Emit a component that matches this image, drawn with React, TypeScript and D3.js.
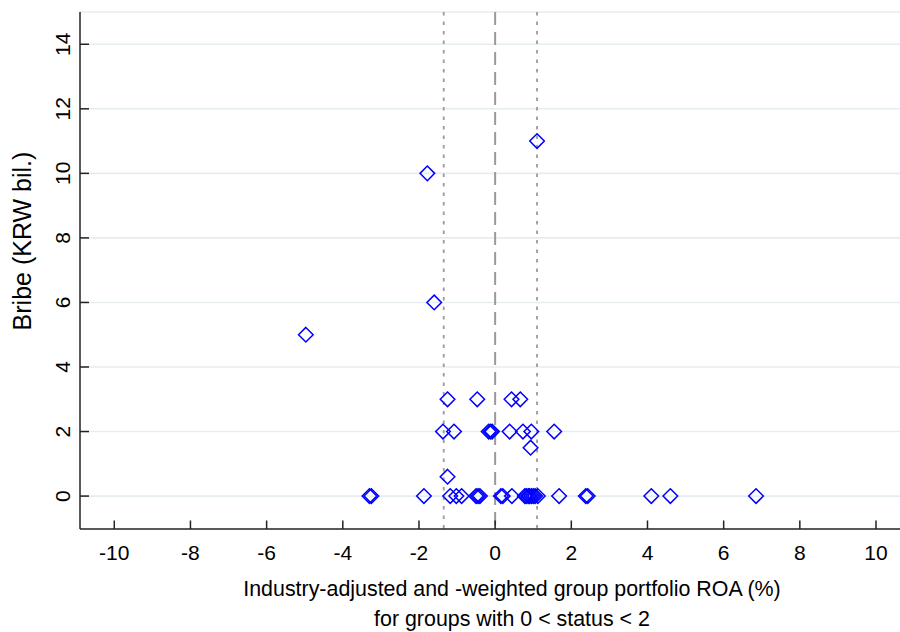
import React from "react";
import * as d3 from "d3";

const roaValues: number[] = [
  1.1, -1.78, -1.6, -4.97,
  -1.25, -0.47, 0.43, 0.66,
  -1.37, -1.08, -0.17, -0.12, -0.08, 0.38, 0.73, 0.95, 1.55,
  0.93, -1.25,
  -3.3, -3.25, -1.87, -1.18, -1.02, -0.88, -0.5, -0.45, -0.4, 0.15, 0.2, 0.44,
  0.78, 0.82, 0.87, 0.9, 0.95, 1.0, 1.05, 1.12, 1.68, 2.38, 2.43, 4.1, 4.6, 6.85,
];
const bribeValues: number[] = [
  11, 10, 6, 5,
  3, 3, 3, 3,
  2, 2, 2, 2, 2, 2, 2, 2, 2,
  1.5, 0.6,
  0, 0, 0, 0, 0, 0, 0, 0, 0, 0, 0, 0,
  0, 0, 0, 0, 0, 0, 0, 0, 0, 0, 0, 0, 0, 0,
];
const xTicks: number[] = [-10, -8, -6, -4, -2, 0, 2, 4, 6, 8, 10];
const yTicks: number[] = [0, 2, 4, 6, 8, 10, 12, 14];
const refLinesDotted: number[] = [-1.35, 1.1];
const refLineZero: number[] = [0];
const xTitle1 = "Industry-adjusted and -weighted group portfolio ROA (%)";
const xTitle2 = "for groups with 0 < status < 2";
const yTitle = "Bribe (KRW bil.)";

const W = 900;
const H = 632;
const FONT = "'Liberation Sans', Arial, Helvetica, sans-serif";

export default function App() {
  const x = d3.scaleLinear().domain([-10.9, 10.63]).range([80, 900]);
  const y = d3.scaleLinear().domain([-1.02, 15]).range([529, 12]);
  const [x0, x1] = x.range();
  const [yb, yt] = y.range();
  const r = 7.3;
  const diamond = (cx: number, cy: number) =>
    `M${cx},${cy - r}L${cx + r},${cy}L${cx},${cy + r}L${cx - r},${cy}Z`;

  return (
    <svg width={W} height={H} style={{ position: "absolute", left: 0, top: 0, background: "#fff" }}>
      <rect x={0} y={0} width={W} height={H} fill="#fff" />
      {yTicks.concat([15]).map((t) => (
        <line key={"g" + t} x1={x0} x2={x1} y1={y(t)} y2={y(t)} stroke="#e6edf1" strokeWidth={1.6} />
      ))}
      {refLinesDotted.map((v) => (
        <line key={"r" + v} x1={x(v)} x2={x(v)} y1={yt} y2={yb} stroke="#9a9a9a" strokeWidth={1.8} strokeDasharray="3.5,6" />
      ))}
      {refLineZero.map((v) => (
        <line key={"z" + v} x1={x(v)} x2={x(v)} y1={yt} y2={yb} stroke="#9a9a9a" strokeWidth={2} strokeDasharray="13,7" />
      ))}
      {roaValues.map((v, i) => (
        <path key={"p" + i} d={diamond(x(v), y(bribeValues[i]))} fill="none" stroke="#0000ff" strokeWidth={1.5} />
      ))}
      <line x1={x0} x2={x0} y1={yt} y2={yb} stroke="#222" strokeWidth={1.5} />
      <line x1={x0} x2={x1} y1={yb} y2={yb} stroke="#222" strokeWidth={1.5} />
      {xTicks.map((t) => (
        <g key={"xt" + t}>
          <line x1={x(t)} x2={x(t)} y1={yb} y2={yb - 8.5} stroke="#222" strokeWidth={1.5} />
          <text x={x(t)} y={560} textAnchor="middle" fontFamily={FONT} fontSize={21} fill="#000">
            {t}
          </text>
        </g>
      ))}
      {yTicks.map((t) => (
        <g key={"yt" + t}>
          <line x1={x0} x2={x0 + 9} y1={y(t)} y2={y(t)} stroke="#222" strokeWidth={1.5} />
          <text
            transform={`translate(70,${y(t)}) rotate(-90)`}
            textAnchor="middle"
            fontFamily={FONT}
            fontSize={21}
            fill="#000"
          >
            {t}
          </text>
        </g>
      ))}
      <text x={512} y={596} textAnchor="middle" fontFamily={FONT} fontSize={21.4} fill="#000">
        {xTitle1}
      </text>
      <text x={512} y={626} textAnchor="middle" fontFamily={FONT} fontSize={21.4} fill="#000">
        {xTitle2}
      </text>
      <text
        transform={`translate(31,241) rotate(-90)`}
        textAnchor="middle"
        fontFamily={FONT}
        fontSize={25}
        fill="#000"
      >
        {yTitle}
      </text>
    </svg>
  );
}
